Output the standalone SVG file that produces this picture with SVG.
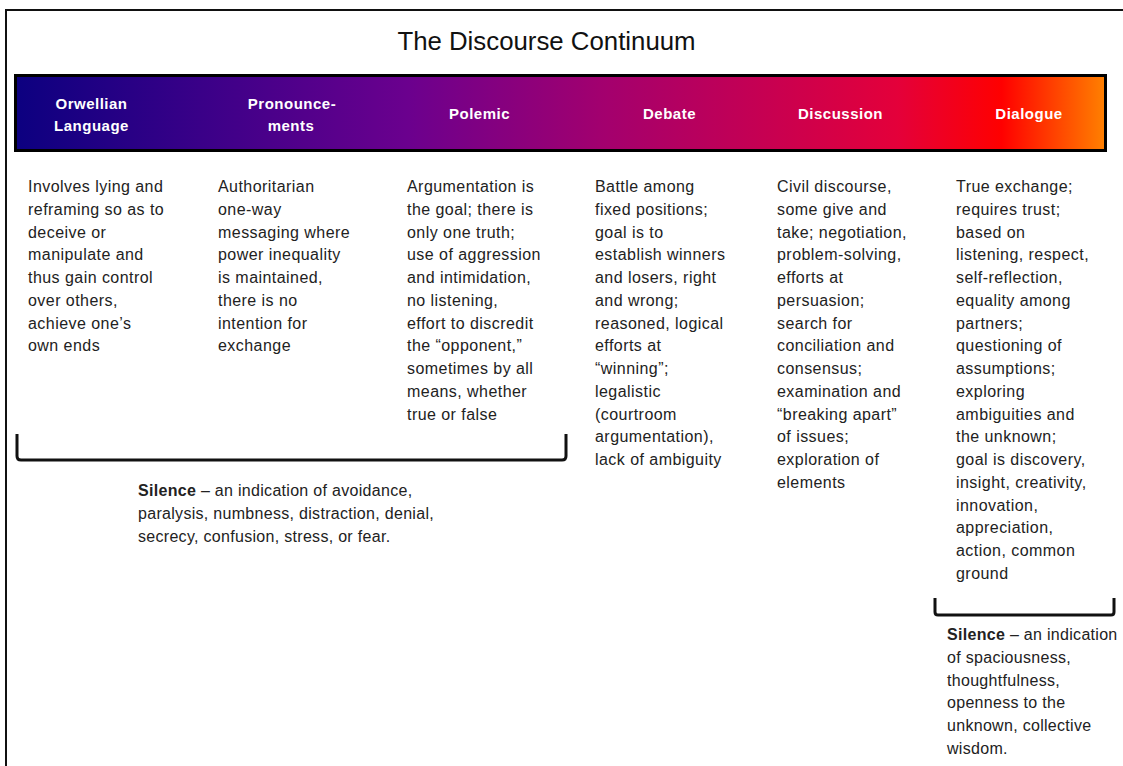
<svg xmlns="http://www.w3.org/2000/svg" width="1123" height="766" viewBox="0 0 1123 766">
<defs>
<linearGradient id="bar" x1="16" y1="0" x2="1105" y2="0" gradientUnits="userSpaceOnUse">
<stop offset="0" stop-color="#0c0080"/>
<stop offset="0.17" stop-color="#3a0088"/>
<stop offset="0.36" stop-color="#6b008e"/>
<stop offset="0.54" stop-color="#a3006e"/>
<stop offset="0.81" stop-color="#e4003a"/>
<stop offset="0.905" stop-color="#ff0000"/>
<stop offset="1" stop-color="#ff8000"/>
</linearGradient>
<style>
.title{font-family:"Liberation Sans",Arial,sans-serif;font-size:25.8px;fill:#111;text-anchor:middle}
.hd{font-family:"Liberation Sans",Arial,sans-serif;font-size:15px;font-weight:bold;fill:#fff;text-anchor:middle;letter-spacing:0.5px}
.bd{font-family:"Liberation Sans",Arial,sans-serif;font-size:16px;fill:#222;letter-spacing:0.45px}
.sl{font-family:"Liberation Sans",Arial,sans-serif;font-size:16px;fill:#222;letter-spacing:0.3px}
.b{font-weight:bold}
.brk{fill:none;stroke:#111;stroke-width:3;stroke-linejoin:round}
</style>
</defs>
<rect x="0" y="0" width="1123" height="766" fill="#fff"/>
<rect x="6" y="10" width="1130" height="800" fill="none" stroke="#111" stroke-width="2"/>
<text class="title" x="546.5" y="50">The Discourse Continuum</text>
<g id="bar-group">
<rect id="continuum-bar" x="15.5" y="75.5" width="1090" height="75" fill="url(#bar)" stroke="#000" stroke-width="3"/>
<g id="h-orwellian"><text class="hd" x="91.5" y="109">Orwellian</text><text class="hd" x="91.5" y="131">Language</text></g>
<g id="h-pronouncements"><text class="hd" x="292" y="109">Pronounce-</text><text class="hd" x="291" y="131">ments</text></g>
<g id="h-polemic"><text class="hd" x="479.5" y="119">Polemic</text></g>
<g id="h-debate"><text class="hd" x="669.5" y="119">Debate</text></g>
<g id="h-discussion"><text class="hd" x="840.5" y="119">Discussion</text></g>
<g id="h-dialogue"><text class="hd" x="1029" y="119">Dialogue</text></g>
</g>
<g id="col-orwellian"><text class="bd" y="192"><tspan x="28">Involves lying and</tspan><tspan x="28" dy="22.75">reframing so as to</tspan><tspan x="28" dy="22.75">deceive or</tspan><tspan x="28" dy="22.75">manipulate and</tspan><tspan x="28" dy="22.75">thus gain control</tspan><tspan x="28" dy="22.75">over others,</tspan><tspan x="28" dy="22.75">achieve one’s</tspan><tspan x="28" dy="22.75">own ends</tspan></text></g>
<g id="col-pronouncements"><text class="bd" y="192"><tspan x="218">Authoritarian</tspan><tspan x="218" dy="22.75">one-way</tspan><tspan x="218" dy="22.75">messaging where</tspan><tspan x="218" dy="22.75">power inequality</tspan><tspan x="218" dy="22.75">is maintained,</tspan><tspan x="218" dy="22.75">there is no</tspan><tspan x="218" dy="22.75">intention for</tspan><tspan x="218" dy="22.75">exchange</tspan></text></g>
<g id="col-polemic"><text class="bd" y="192"><tspan x="407">Argumentation is</tspan><tspan x="407" dy="22.75">the goal; there is</tspan><tspan x="407" dy="22.75">only one truth;</tspan><tspan x="407" dy="22.75">use of aggression</tspan><tspan x="407" dy="22.75">and intimidation,</tspan><tspan x="407" dy="22.75">no listening,</tspan><tspan x="407" dy="22.75">effort to discredit</tspan><tspan x="407" dy="22.75">the “opponent,”</tspan><tspan x="407" dy="22.75">sometimes by all</tspan><tspan x="407" dy="22.75">means, whether</tspan><tspan x="407" dy="22.75">true or false</tspan></text></g>
<g id="col-debate"><text class="bd" y="192"><tspan x="595">Battle among</tspan><tspan x="595" dy="22.75">fixed positions;</tspan><tspan x="595" dy="22.75">goal is to</tspan><tspan x="595" dy="22.75">establish winners</tspan><tspan x="595" dy="22.75">and losers, right</tspan><tspan x="595" dy="22.75">and wrong;</tspan><tspan x="595" dy="22.75">reasoned, logical</tspan><tspan x="595" dy="22.75">efforts at</tspan><tspan x="595" dy="22.75">“winning”;</tspan><tspan x="595" dy="22.75">legalistic</tspan><tspan x="595" dy="22.75">(courtroom</tspan><tspan x="595" dy="22.75">argumentation),</tspan><tspan x="595" dy="22.75">lack of ambiguity</tspan></text></g>
<g id="col-discussion"><text class="bd" y="192"><tspan x="777">Civil discourse,</tspan><tspan x="777" dy="22.75">some give and</tspan><tspan x="777" dy="22.75">take; negotiation,</tspan><tspan x="777" dy="22.75">problem-solving,</tspan><tspan x="777" dy="22.75">efforts at</tspan><tspan x="777" dy="22.75">persuasion;</tspan><tspan x="777" dy="22.75">search for</tspan><tspan x="777" dy="22.75">conciliation and</tspan><tspan x="777" dy="22.75">consensus;</tspan><tspan x="777" dy="22.75">examination and</tspan><tspan x="777" dy="22.75">“breaking apart”</tspan><tspan x="777" dy="22.75">of issues;</tspan><tspan x="777" dy="22.75">exploration of</tspan><tspan x="777" dy="22.75">elements</tspan></text></g>
<g id="col-dialogue"><text class="bd" y="192"><tspan x="956">True exchange;</tspan><tspan x="956" dy="22.75">requires trust;</tspan><tspan x="956" dy="22.75">based on</tspan><tspan x="956" dy="22.75">listening, respect,</tspan><tspan x="956" dy="22.75">self-reflection,</tspan><tspan x="956" dy="22.75">equality among</tspan><tspan x="956" dy="22.75">partners;</tspan><tspan x="956" dy="22.75">questioning of</tspan><tspan x="956" dy="22.75">assumptions;</tspan><tspan x="956" dy="22.75">exploring</tspan><tspan x="956" dy="22.75">ambiguities and</tspan><tspan x="956" dy="22.75">the unknown;</tspan><tspan x="956" dy="22.75">goal is discovery,</tspan><tspan x="956" dy="22.75">insight, creativity,</tspan><tspan x="956" dy="22.75">innovation,</tspan><tspan x="956" dy="22.75">appreciation,</tspan><tspan x="956" dy="22.75">action, common</tspan><tspan x="956" dy="22.75">ground</tspan></text></g>
<g id="connectors">
<path id="bracket-left" class="brk" d="M17,434 L17,456 Q17,460 21,460 L562,460 Q566,460 566,456 L566,434"/>
<path id="bracket-right" class="brk" d="M935,598 L935,612 Q935,615 938,615 L1111,615 Q1114,615 1114,612 L1114,598"/>
</g>
<g id="silence-negative"><text class="sl" y="496"><tspan x="138"><tspan class="b">Silence</tspan> – an indication of avoidance,</tspan><tspan x="138" dy="22.75">paralysis, numbness, distraction, denial,</tspan><tspan x="138" dy="22.75">secrecy, confusion, stress, or fear.</tspan></text></g>
<g id="silence-positive"><text class="sl" y="640"><tspan x="947"><tspan class="b">Silence</tspan> – an indication</tspan><tspan x="947" dy="22.75">of spaciousness,</tspan><tspan x="947" dy="22.75">thoughtfulness,</tspan><tspan x="947" dy="22.75">openness to the</tspan><tspan x="947" dy="22.75">unknown, collective</tspan><tspan x="947" dy="22.75">wisdom.</tspan></text></g>
</svg>
